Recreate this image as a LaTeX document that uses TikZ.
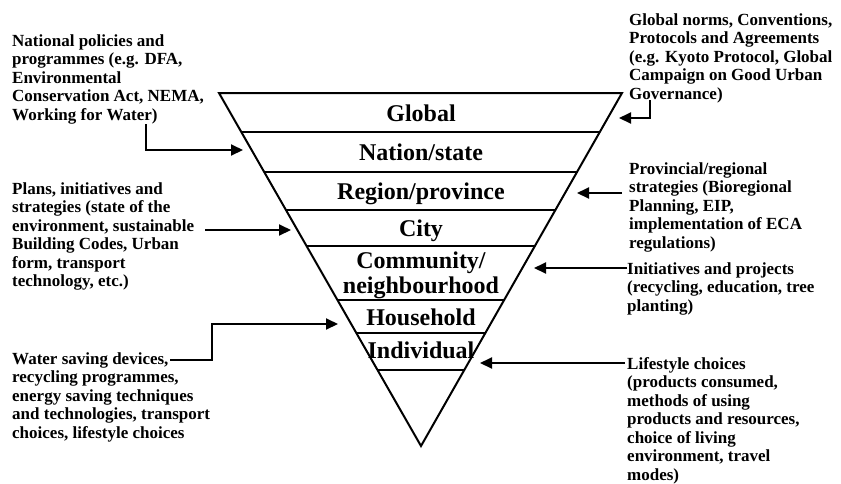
\documentclass[tikz,border=0pt]{standalone}
\usepackage{fontspec}
\setmainfont{Liberation Serif}
\usetikzlibrary{arrows.meta,calc}
\begin{document}
\begin{tikzpicture}[x=1pt,y=-1pt,
  lvl/.style={font=\fontsize{24}{25}\selectfont\bfseries, align=center, inner sep=0pt},
  side/.style={font=\fontsize{17}{18.5}\selectfont\bfseries, align=left, anchor=base west, inner sep=0pt},
  edgeline/.style={line width=2pt},
  arr/.style={line width=2pt, -{Triangle[length=12pt,width=11pt]}}
]
\useasboundingbox (0,0) rectangle (841,483);
% triangle
\coordinate (TL) at (219,93);
\coordinate (TR) at (622,93);
\coordinate (AP) at (421,446);
\draw[edgeline, line join=miter] (TL) -- (TR) -- (AP) -- cycle;
\foreach \t in {0.1105,0.2238,0.3314,0.4334,0.5864,0.6799,0.7847}
  \draw[edgeline] ($(TL)!\t!(AP)$) -- ($(TR)!\t!(AP)$);
% level labels (base = baseline of last line)
\node[lvl, anchor=base] (global) at (421,121) {Global};
\node[lvl, anchor=base] (nation) at (421,160) {Nation/state};
\node[lvl, anchor=base] (region) at (421,199) {Region/province};
\node[lvl, anchor=base] (city) at (421,236) {City};
\node[lvl, anchor=base] (community) at (421,293) {Community/\\neighbourhood};
\node[lvl, anchor=base] (household) at (421,325) {Household};
\node[lvl, anchor=base] (individual) at (421,358) {Individual};
% side texts (base = baseline of last line)
\node[side] (national) at (12,120) {National policies and\\programmes (e.g. DFA,\\Environmental\\Conservation Act, NEMA,\\Working for Water)};
\node[side] (norms) at (629,99) {Global norms, Conventions,\\Protocols and Agreements\\(e.g. Kyoto Protocol, Global\\Campaign on Good Urban\\Governance)};
\node[side] (plans) at (12,286.5) {Plans, initiatives and\\strategies (state of the\\environment, sustainable\\Building Codes, Urban\\form, transport\\technology, etc.)};
\node[side] (provincial) at (629,248) {Provincial/regional\\strategies (Bioregional\\Planning, EIP,\\implementation of ECA\\regulations)};
\node[side] (initiatives) at (627,311) {Initiatives and projects\\(recycling, education, tree\\planting)};
\node[side] (water) at (12,438) {Water saving devices,\\recycling programmes,\\energy saving techniques\\and technologies, transport\\choices, lifestyle choices};
\node[side] (lifestyle) at (627,480) {Lifestyle choices\\(products consumed,\\methods of using\\products and resources,\\choice of living\\environment, travel\\modes)};
% arrow coordinates
\coordinate (a1s) at (146,124); \coordinate (a1t) at (243,150);
\coordinate (a2s) at (650,100); \coordinate (a2t) at (619,118);
\coordinate (a3s) at (205,230); \coordinate (a3t) at (291,230);
\coordinate (a4s) at (622,193); \coordinate (a4t) at (577,193);
\coordinate (a5s) at (627,268); \coordinate (a5t) at (534,268);
\coordinate (a6s) at (170,360); \coordinate (a6m) at (212,360); \coordinate (a6t) at (338,324);
\coordinate (a7s) at (625,363); \coordinate (a7t) at (480,363);
\draw[arr] (a1s) |- (a1t);
\draw[arr] (a2s) |- (a2t);
\draw[arr] (a3s) -- (a3t);
\draw[arr] (a4s) -- (a4t);
\draw[arr] (a5s) -- (a5t);
\draw[arr] (a6s) -- (a6m) |- (a6t);
\draw[arr] (a7s) -- (a7t);
\end{tikzpicture}
\end{document}
